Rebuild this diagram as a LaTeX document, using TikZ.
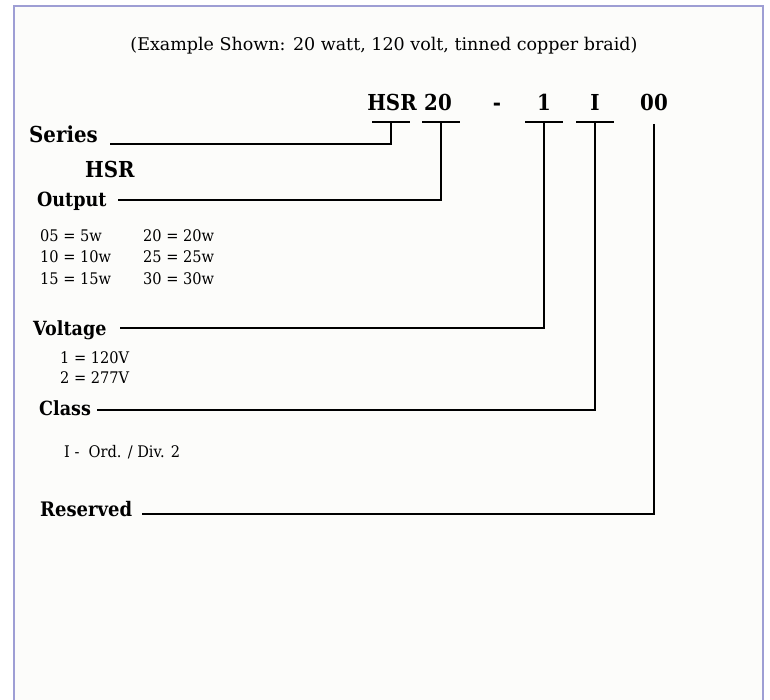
\documentclass[tikz,border=0pt]{standalone}
\usepackage{fontspec}
\setmainfont{DejaVu Serif}
\newfontfamily\fLbl[FakeStretch=0.9]{DejaVu Serif}
\newfontfamily\fOpt[FakeStretch=0.91]{DejaVu Serif}
\definecolor{frame}{RGB}{158,158,212}
\definecolor{paper}{RGB}{252,252,250}
\tikzset{
  conn/.style={line width=2.6pt, line join=miter},
  lbl/.style={anchor=base west, inner sep=0pt, font=\fLbl\bfseries\fontsize{22}{24}\selectfont},
  lblmid/.style={anchor=base west, inner sep=0pt, font=\fLbl\bfseries\fontsize{19.5}{22}\selectfont},
  lblsmall/.style={anchor=base west, inner sep=0pt, font=\fLbl\bfseries\fontsize{20}{22}\selectfont},
  code/.style={anchor=base, inner sep=0pt, font=\fLbl\bfseries\fontsize{22}{24}\selectfont},
  opt/.style={anchor=base west, inner sep=0pt, font=\fOpt\fontsize{16}{18}\selectfont},
  ttl/.style={anchor=base, inner sep=0pt, font=\fontsize{17.5}{20}\selectfont},
  barnode/.style={fill=black, inner sep=0pt, minimum height=2.6pt, minimum width=38pt}
}
\begin{document}
\begin{tikzpicture}[x=1pt,y=-1pt]
\useasboundingbox (0,0) rectangle (770,700);
\fill[white] (0,0) rectangle (770,700);
\fill[paper] (14,6) rectangle (763,700);
\draw[frame, line width=2pt] (14,700) -- (14,6) -- (763,6) -- (763,700);

\node[ttl] (title) at (384,51) {(Example Shown: 20 watt, 120 volt, tinned copper braid)};

\node[code] (cHSR) at (392,111) {HSR};
\node[code] (c20) at (438,111) {20};
\node[code] (cdash) at (497,111) {-};
\node[code] (c1) at (544,111) {1};
\node[code] (cI) at (595,111) {I};
\node[code] (c00) at (654,111) {00};

\node[barnode] (bHSR) at (391,122) {};
\node[barnode] (b20) at (441,122) {};
\node[barnode] (b1) at (544,122) {};
\node[barnode] (bI) at (595,122) {};
\coordinate (t00) at (654,124);

\node[lbl] (series) at (29,143) {Series};
\node[lbl] (hsr) at (85,178) {HSR};
\node[lblmid] (output) at (37,207) {Output};
\node[lblmid] (voltage) at (33,335) {Voltage};
\node[lblmid] (class) at (39,415) {Class};
\node[lblsmall] (reserved) at (40,516) {Reserved};

\coordinate (sL) at (110,144);
\coordinate (oL) at (118,200);
\coordinate (vL) at (120,328);
\coordinate (cL) at (97,410);
\coordinate (rL) at (142,514);

\draw[conn] (bHSR.center) |- (sL);
\draw[conn] (b20.center) |- (oL);
\draw[conn] (b1.center) |- (vL);
\draw[conn] (bI.center) |- (cL);
\draw[conn] (t00) |- (rL);

\node[opt] (o05) at (40,242) {05 = 5w};
\node[opt] (o10) at (40,263) {10 = 10w};
\node[opt] (o15) at (40,284) {15 = 15w};
\node[opt] (o20) at (143,242) {20 = 20w};
\node[opt] (o25) at (143,263) {25 = 25w};
\node[opt] (o30) at (143,284) {30 = 30w};

\node[opt] (v1) at (60,363) {1 = 120V};
\node[opt] (v2) at (60,383) {2 = 277V};
\node[opt] (cls) at (64,457) {I -\ \ Ord. / Div. 2};
\end{tikzpicture}
\end{document}
